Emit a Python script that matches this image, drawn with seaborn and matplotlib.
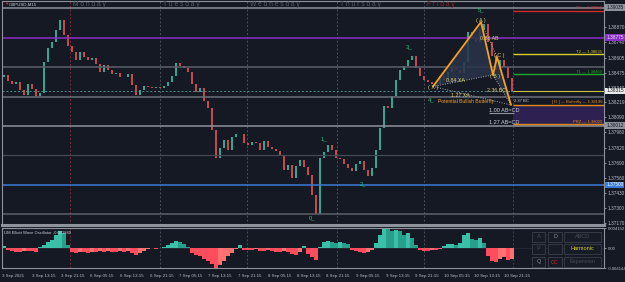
import numpy as np
import pandas as pd
import seaborn as sns
import matplotlib.pyplot as plt
from matplotlib.patches import Rectangle
import matplotlib.transforms as mtransforms

BG = "#151924"
sns.set_style("dark", {"axes.facecolor": BG, "figure.facecolor": BG,
                       "axes.edgecolor": "#8e929b", "grid.color": BG})
plt.rcParams["font.family"] = ["Liberation Sans", "DejaVu Sans"]

# ---- data -------------------------------------------------------------------
first_open = 1.38440
closes = [1.38454, 1.38402, 1.38376, 1.38393, 1.38324, 1.38280, 1.38376, 1.38332,
          1.38272, 1.38298, 1.38566, 1.38688, 1.38740, 1.38844, 1.38931, 1.38801,
          1.38705, 1.38653, 1.38584, 1.38653, 1.38610, 1.38584, 1.38601, 1.38549,
          1.38480, 1.38540, 1.38497, 1.38462, 1.38471, 1.38436, 1.38436, 1.38462,
          1.38367, 1.38280, 1.38324, 1.38358, 1.38350, 1.38341, 1.38350, 1.38341,
          1.38358, 1.38393, 1.38445, 1.38558, 1.38532, 1.38514, 1.38480, 1.38376,
          1.38306, 1.38341, 1.38228, 1.38168, 1.37977, 1.37734, 1.37821, 1.37890,
          1.37804, 1.37916, 1.37942, 1.37942, 1.37864, 1.37847, 1.37873, 1.37864,
          1.37804, 1.37881, 1.37830, 1.37812, 1.37795, 1.37760, 1.37630, 1.37674,
          1.37561, 1.37665, 1.37717, 1.37656, 1.37587, 1.37413, 1.37249, 1.37734,
          1.37786, 1.37847, 1.37804, 1.37734, 1.37726, 1.37682, 1.37648, 1.37621,
          1.37682, 1.37708, 1.37630, 1.37578, 1.37648, 1.37804, 1.37994, 1.38185,
          1.38168, 1.38272, 1.38410, 1.38497, 1.38532, 1.38584, 1.38619, 1.38514,
          1.38445, 1.38410, 1.38393, 1.38376, 1.38376, 1.38445, 1.38410, 1.38480,
          1.38514, 1.38497, 1.38471, 1.38566, 1.38827, 1.38775, 1.38740, 1.38844,
          1.38896, 1.38740, 1.38619, 1.38497, 1.38584, 1.38523, 1.38428, 1.38306]

osc = [0.00044, -0.00044, -0.00065, -0.00087, -0.00087, -0.00065, -0.00065, -0.00065,
       -0.00087, 0.00022, 0.00065, 0.00131, 0.00175, 0.00262, 0.00349, 0.00305,
       0.00065, -0.00087, -0.00109, -0.00087, -0.00087, -0.00109, -0.00087, -0.00087,
       -0.00065, -0.00087, -0.00065, -0.00087, -0.00087, -0.00065, -0.00087, -0.00065,
       -0.00109, -0.00153, -0.00109, -0.00065, -0.00022, 0.00005, -0.00022, 0.00005,
       0.00022, 0.00065, 0.00109, 0.00153, 0.00131, 0.00087, 0.00022, -0.00109,
       -0.00153, -0.00175, -0.00218, -0.00262, -0.00327, -0.00414, -0.00349, -0.00262,
       -0.00175, -0.00109, -0.00022, 0.00065, -0.00044, -0.00044, -0.00044, -0.00022,
       -0.00065, -0.00065, -0.00044, -0.00065, -0.00087, -0.00087, -0.00065, -0.00087,
       -0.00131, -0.00153, -0.00087, 0.00044, -0.00131, -0.00196, -0.00240, 0.00022,
       0.00131, 0.00153, 0.00131, 0.00109, 0.00131, 0.00109, 0.00087, -0.00044,
       -0.00065, -0.00087, -0.00109, -0.00087, -0.00044, 0.00109, 0.00262, 0.00414,
       0.00393, 0.00349, 0.00371, 0.00349, 0.00262, 0.00305, 0.00218, 0.00065,
       -0.00044, -0.00065, -0.00065, -0.00044, -0.00044, -0.00022, 0.00044, 0.00087,
       0.00087, 0.00065, 0.00109, 0.00262, 0.00305, 0.00196, 0.00175, 0.00218,
       0.00109, -0.00175, -0.00262, -0.00284, -0.00218, -0.00196, -0.00240, -0.00218]

price_ticks = [1.38870, 1.38740, 1.38605, 1.38475, 1.38340, 1.38219, 1.38090,
               1.37960, 1.37820, 1.37690, 1.37560, 1.37430, 1.37300, 1.37170]
time_labels = ["3 Sep 2021", "3 Sep 13:15", "3 Sep 21:15", "6 Sep 05:15", "6 Sep 13:15",
               "6 Sep 21:15", "7 Sep 05:15", "7 Sep 13:15", "7 Sep 21:15", "8 Sep 05:15",
               "8 Sep 13:15", "8 Sep 21:15", "9 Sep 05:15", "9 Sep 13:15", "9 Sep 21:15",
               "10 Sep 05:15", "10 Sep 13:15", "10 Sep 21:15"]
bars_per_label = 7.375

days = ["Monday", "Tuesday", "Wednesday", "Thursday", "Friday"]
day_starts = [16.5, 39, 60.75, 83.25, 105]
now_bar = 127.25

# full width horizontal lines
hlines = [1.39035, 1.38775, 1.38523, 1.38263, 1.38012, 1.37760, 1.37500, 1.37249]
hline_colors = ["#8e929b", "#8a2fc6", "#5c606a", "#6a6e78", "#8e929b", "#454954",
                "#3a7bd5", "#5c606a"]

# harmonic butterfly X A B C D
pat_names = ["X", "A", "B", "C", "D"]
pat_idx = [107.25, 119.25, 122.25, 123.25, 126.75]
pat_price = [1.38354, 1.38913, 1.38454, 1.38610, 1.38194]

targets = ["T3", "T2", "T1"]
target_price = [1.39010, 1.38635, 1.38460]
target_colors = ["#d42a2a", "#d8d02a", "#1faa2a"]
bid = 1.38315
d_price = 1.38196
prz_price = 1.38025

waves = ["0", "1", "2", "3", "4", "5"]
wave_idx = [77, 80, 89.75, 101.25, 106.75, 119.25]
wave_price = [1.37215, 1.37899, 1.37509, 1.38697, 1.38237, 1.39017]

# ---- figure -------------------------------------------------------------------
W, H = 625, 282
fig = plt.figure(figsize=(W / 100, H / 100), dpi=100)
ax = fig.add_axes([2 / W, 1 - 225 / H, 602 / W, 224 / H])
ox = fig.add_axes([2 / W, 1 - 268 / H, 602 / W, 40 / H])

for a in (ax, ox):
    a.set_facecolor(BG)
    a.set_xlim(-0.5, 150)
    for s in a.spines.values():
        s.set_color("#8e929b")
        s.set_linewidth(0.8)
ax.spines["bottom"].set_linewidth(2.2)
ax.set_ylim(1.37153, 1.39095)
ox.set_ylim(-0.004144, 0.004152)

# candles
idx = np.arange(len(closes))
cl = np.array(closes)
op = np.array([first_open] + closes[:-1])
body = np.where(np.abs(cl - op) < 0.00004, 0.00004, np.abs(cl - op))
lo = np.minimum(cl, op)
up = cl >= op
ax.bar(idx[up], body[up], bottom=lo[up], width=0.7, color="#35a593", lw=0)
ax.bar(idx[~up], body[~up], bottom=lo[~up], width=0.7, color="#c5484c", lw=0)

# horizontal levels
for p, c in zip(hlines, hline_colors):
    ax.axhline(p, color=c, lw=1.1 if c != "#454954" else 0.9, zorder=1)
ax.axhline(bid, color="#4f8c8c", lw=0.7, ls=(0, (2, 2)), zorder=1)

# vertical day separators
for a in (ax, ox):
    for d in day_starts[1:]:
        a.axvline(d, color="#4c505a", lw=0.7, ls=(0, (2, 2)), zorder=0)
    for d in (day_starts[0], now_bar):
        a.axvline(d, color="#7a2a30", lw=0.7, ls=(0, (2, 2)), zorder=0)
for name, d in zip(days, day_starts):
    ax.text(d + 0.8, 0.985, " ".join(name), transform=ax.get_xaxis_transform(),
            fontsize=4.8, color="#8a2a2a" if name == "Friday" else "#565b66",
            va="center", ha="left")

# right side target / PRZ lines
ax.add_patch(Rectangle((now_bar, prz_price), 150 - now_bar, d_price - prz_price,
                       color="#2e2152", zorder=1, lw=0))
for n, p, c in zip(targets, target_price, target_colors):
    ax.hlines(p, now_bar, 150, color=c, lw=1.0, zorder=2)
    ax.text(149.5, p + 0.00003, f"{n} — {p:.5f}", color=c, fontsize=3.0,
            ha="right", va="bottom")
ax.hlines(bid, now_bar, 150, color="#c8c23a", lw=0.8, zorder=2)
ax.hlines([d_price, prz_price], now_bar, 150, color="#e08a1a", lw=1.0, zorder=2)
ax.text(149.5, d_price + 0.00003, f"[ D ] — Butterfly — {d_price:.5f}", color="#e08a1a",
        fontsize=3.0, ha="right", va="bottom")
ax.text(149.5, prz_price + 0.00003, f"PRZ — {prz_price:.5f}", color="#e08a1a",
        fontsize=3.0, ha="right", va="bottom")

# harmonic pattern
pat = pd.DataFrame({"idx": pat_idx, "price": pat_price, "pt": pat_names})
for tri in ([0, 1, 2], [2, 3, 4]):
    ax.fill(pat.idx[tri], pat.price[tri], color="#2a3349", alpha=0.85, lw=0, zorder=2)
for i, j in ((0, 2), (1, 3), (2, 4), (0, 4)):
    ax.plot(pat.idx[[i, j]], pat.price[[i, j]], color="#9ea2aa", lw=0.7,
            ls=(0, (1, 1.5)), zorder=3)
sns.lineplot(data=pat, x="idx", y="price", sort=False, color="#f5a020", lw=1.3,
             ax=ax, zorder=4)
ax.set_xlabel("")
ax.set_ylabel("")

yl = "#e0d46a"
lbl_off = {"X": (0, -0.00010), "A": (0, 0.00012), "B": (0.5, -0.00010),
           "C": (0.5, 0.00010), "D": (0, 0)}
for n, x, y in zip(pat_names[:4], pat_idx, pat_price):
    dx, dy = lbl_off[n]
    ax.text(x + dx, y + dy, f"( {n} )", color=yl, fontsize=3.8, ha="center",
            va="center", zorder=5)
ax.text(112.75, 1.38402, "0.84 XA", color=yl, fontsize=3.8, ha="center", va="center", zorder=5)
ax.text(114, 1.38272, "1.27 XA", color=yl, fontsize=3.8, ha="center", va="center", zorder=5)
ax.text(121.4, 1.38766, "0.86 AB", color=yl, fontsize=3.8, ha="center", va="center", zorder=5)
ax.text(123, 1.38315, "2.36 BC", color=yl, fontsize=3.8, ha="center", va="center", zorder=5)
ax.text(127.5, 1.38228, "2.37 BC", color="#c8ccd4", fontsize=3.0, ha="left", va="center", zorder=5)
ax.text(108.5, 1.38228, "Potential Bullish Butterfly", color="#f0a030", fontsize=3.6,
        ha="left", va="center", zorder=5)
ax.text(121.2, 1.38150, "1.00 AB=CD", color="#c8ccd4", fontsize=4.0, ha="left",
        va="center", zorder=5)
ax.hlines(1.38125, 121.2, 127.5, color="#8e929b", lw=0.8, zorder=5)
ax.text(121.2, 1.38038, "1.27 AB=CD", color="#c8ccd4", fontsize=4.0, ha="left",
        va="center", zorder=5)

# elliott wave counts
for n, x, y in zip(waves, wave_idx, wave_price):
    ax.text(x, y, n + "_", color="#22c87a", fontsize=4.2, ha="center", va="center", zorder=5)

ax.text(0.004, 0.985, "▼", transform=ax.transAxes, color="#d03030", fontsize=3.2,
        va="center", ha="left")
ax.text(0.011, 0.985, "GBPUSD,M15", transform=ax.transAxes, color="#c8ccd4",
        fontsize=3.2, va="center", ha="left")

# price axis
ax.yaxis.tick_right()
ax.set_yticks(price_ticks)
ax.set_yticklabels([f"{p:.5f}" for p in price_ticks])
ax.tick_params(axis="y", labelsize=3.4, colors="#b8bcc4", length=1.5, width=0.5, pad=1)
ax.set_xticks([])
boxes = [(hlines[0], "#8e929b", "#151924"), (hlines[1], "#8a2fc6", "#e8e8e8"),
         (bid, "#e8e8e8", "#151924"), (hlines[4], "#8e929b", "#151924"),
         (hlines[6], "#3a7bd5", "#ffffff")]
tr = mtransforms.blended_transform_factory(ax.transAxes, ax.transData)
for p, bgc, fgc in boxes:
    ax.text(1.004, p, f"{p:.5f}", transform=tr, fontsize=3.4, color=fgc, ha="left",
            va="center", clip_on=False, zorder=10,
            bbox=dict(boxstyle="square,pad=0.2", fc=bgc, ec="none"))

# oscillator
ov = np.array(osc)
prev = np.array([0.0] + osc[:-1])
cols = []
for v, pv in zip(ov, prev):
    if v >= 0:
        cols.append("#3cbfa8" if v >= pv else "#26a08c")
    else:
        cols.append("#ff4d5e" if v <= pv else "#ff7070")
ox.bar(idx, ov, width=1.0, color=cols, lw=0, zorder=2)
ox.axhline(0, color="#2a2e38", lw=0.5, zorder=1)
ox.text(0.004, 0.93, "UM Elliott Wave Oscillator -0.001840", transform=ox.transAxes,
        color="#c8ccd4", fontsize=3.0, va="top", ha="left")
ox.yaxis.tick_right()
ox.set_yticks([0.004152, 0.0, -0.004144])
ox.set_yticklabels(["0.004152", "0.00", "-0.004144"])
ox.tick_params(axis="y", labelsize=3.1, colors="#b8bcc4", length=1.5, width=0.5, pad=1)
ox.set_xticks([-0.5 + bars_per_label * k for k in range(len(time_labels))])
ox.set_xticklabels(time_labels, ha="left")
ox.tick_params(axis="x", labelsize=3.2, colors="#b8bcc4", length=2, width=0.5, pad=2)

# button panel
def px_rect(x0, y0, x1, y1, text, tc):
    fig.add_artist(Rectangle((x0 / W, 1 - y1 / H), (x1 - x0) / W, (y1 - y0) / H,
                             transform=fig.transFigure, fc="#171b26", ec="#3c404a", lw=0.6))
    fig.text((x0 + x1) / 2 / W, 1 - (y0 + y1) / 2 / H, text, color=tc, fontsize=4.0,
             ha="center", va="center")

cols_px = [(532, 545), (548, 562), (564, 601)]
rows_px = [(232, 242), (244, 254), (257, 267)]
buttons = [["A", "D", "ABCD"], ["P", "", "Harmonic"], ["Q", "CC", "Expansion"]]
btn_colors = [["#4a4e58", "#8e929b", "#4a4e58"], ["#4a4e58", "#4a4e58", "#e0d030"],
              ["#8e929b", "#e02020", "#4a4e58"]]
for r, (y0, y1) in enumerate(rows_px):
    for c, (x0, x1) in enumerate(cols_px):
        px_rect(x0, y0, x1, y1, buttons[r][c], btn_colors[r][c])

fig.savefig("out.png", dpi=100, facecolor=BG)
